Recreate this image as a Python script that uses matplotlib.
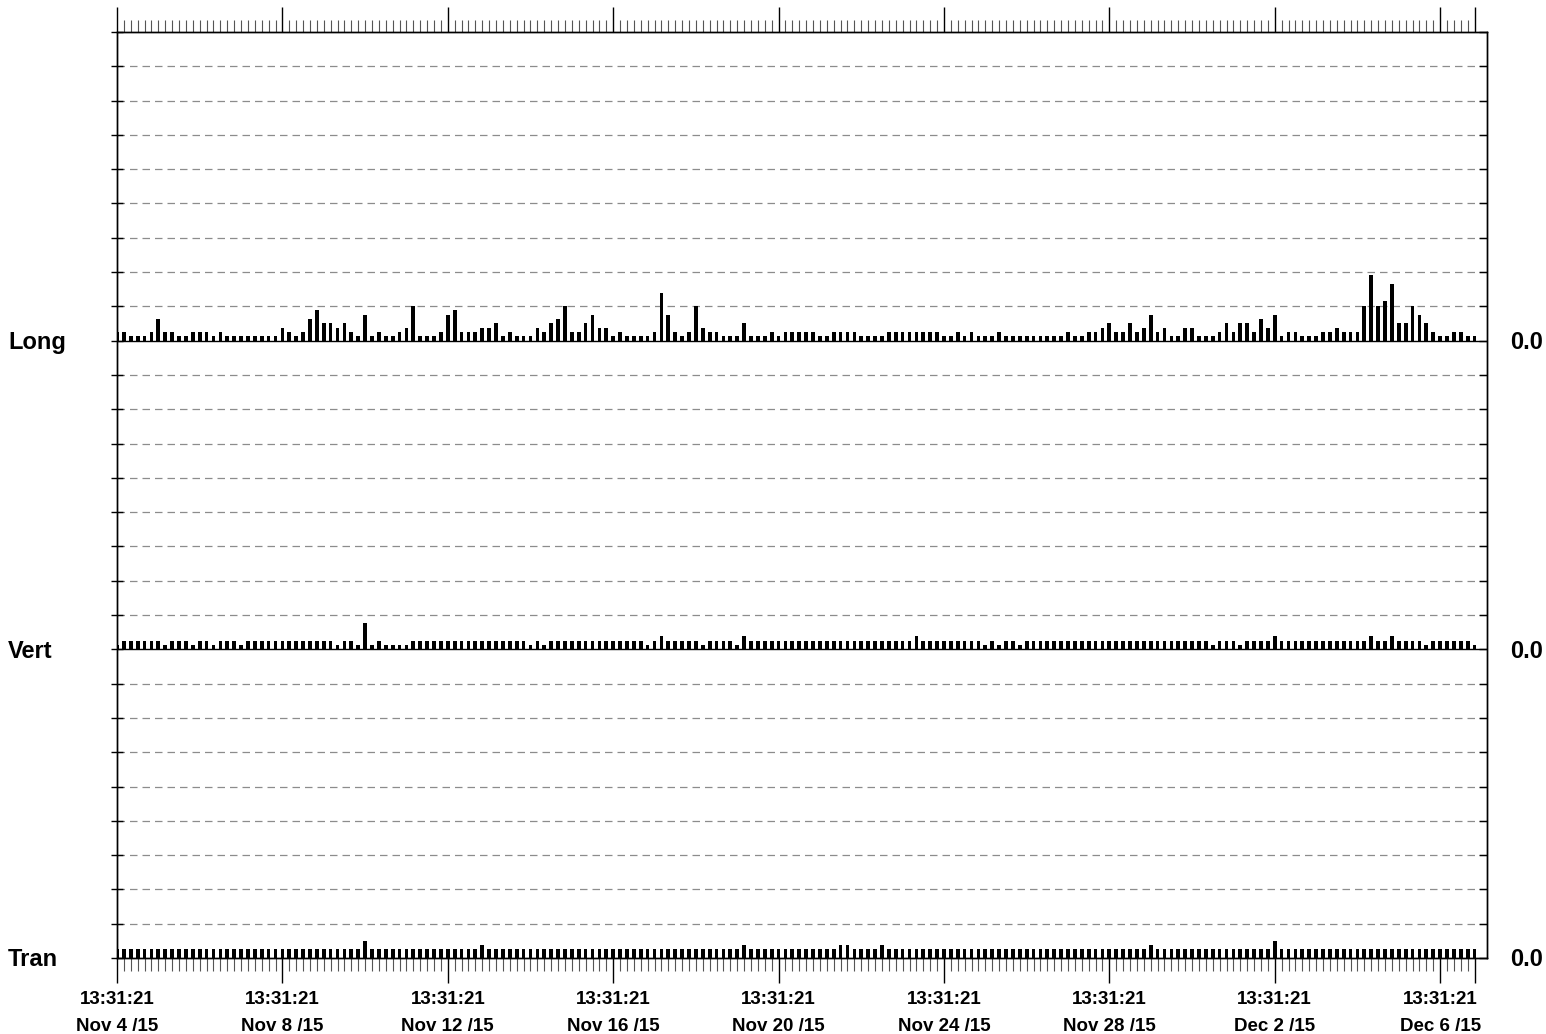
"""Three-channel PPV bar chart (Long / Vert / Tran), one bar every 4 hours."""
from datetime import datetime, timedelta

import matplotlib
matplotlib.use("Agg")
import matplotlib.dates as mdates
import matplotlib.pyplot as plt
from matplotlib.ticker import FixedLocator, FuncFormatter

plt.rcParams["font.family"] = ["Liberation Sans", "DejaVu Sans"]
plt.rcParams["font.weight"] = "bold"

# one reading every 4 h, values as counts of the 0.127 mm/s resolution step
START = datetime(2015, 11, 4, 13, 31, 21)
STEP_H = 4
RES = 0.127

LONG = [2, 2, 1, 1, 1, 2, 5, 2, 2, 1, 1, 2, 2, 2, 1, 2, 1, 1, 1, 1,
        1, 1, 1, 1, 3, 2, 1, 2, 5, 7, 4, 4, 3, 4, 2, 1, 6, 1, 2, 1,
        1, 2, 3, 8, 1, 1, 1, 2, 6, 7, 2, 2, 2, 3, 3, 4, 1, 2, 1, 1,
        1, 3, 2, 4, 5, 8, 2, 2, 4, 6, 3, 3, 1, 2, 1, 1, 1, 1, 2, 11,
        6, 2, 1, 2, 8, 3, 2, 2, 1, 1, 1, 4, 1, 1, 1, 2, 1, 2, 2, 2,
        2, 2, 1, 1, 2, 2, 2, 2, 1, 1, 1, 1, 2, 2, 2, 2, 2, 2, 2, 2,
        1, 1, 2, 1, 2, 1, 1, 1, 2, 1, 1, 1, 1, 1, 1, 1, 1, 1, 2, 1,
        1, 2, 2, 3, 4, 2, 2, 4, 2, 3, 6, 2, 3, 1, 1, 3, 3, 1, 1, 1,
        2, 4, 2, 4, 4, 2, 5, 3, 6, 1, 2, 2, 1, 1, 1, 2, 2, 3, 2, 2,
        2, 8, 15, 8, 9, 13, 4, 4, 8, 6, 4, 2, 1, 1, 2, 2, 1, 1]

VERT = [1, 2, 2, 2, 2, 2, 2, 1, 2, 2, 2, 1, 2, 2, 1, 2, 2, 2, 1, 2,
        2, 2, 2, 2, 2, 2, 2, 2, 2, 2, 2, 2, 1, 2, 2, 1, 6, 1, 2, 1,
        1, 1, 1, 2, 2, 2, 2, 2, 2, 2, 2, 2, 2, 2, 2, 2, 2, 2, 2, 2,
        1, 2, 1, 2, 2, 2, 2, 2, 2, 2, 2, 2, 2, 2, 2, 2, 2, 1, 2, 3,
        2, 2, 2, 2, 2, 1, 2, 2, 2, 2, 1, 3, 2, 2, 2, 2, 2, 2, 2, 2,
        2, 2, 2, 2, 2, 2, 2, 2, 2, 2, 2, 2, 2, 2, 2, 2, 3, 2, 2, 2,
        2, 2, 2, 2, 2, 2, 1, 2, 1, 2, 2, 1, 2, 2, 2, 2, 2, 2, 2, 2,
        2, 2, 2, 2, 2, 2, 2, 2, 2, 2, 2, 2, 2, 2, 2, 2, 2, 2, 2, 1,
        2, 2, 2, 1, 2, 2, 2, 2, 3, 2, 2, 2, 2, 2, 2, 2, 2, 2, 2, 2,
        2, 2, 3, 2, 2, 3, 2, 2, 2, 2, 1, 2, 2, 2, 2, 2, 2, 1]

TRAN = [2] * 198
for i, v in [(36, 4), (53, 3), (91, 3), (105, 3), (106, 3), (111, 3),
             (150, 3), (168, 4)]:
    TRAN[i] = v

CHANNELS = ["Long", "Vert", "Tran"]
SERIES = [LONG, VERT, TRAN]
BAND = 9          # mm/s of grid per channel band
MAJOR_DAYS = 4

times = [START + timedelta(hours=STEP_H * i) for i in range(len(LONG))]
tnum = mdates.date2num(times)
step_d = STEP_H / 24.0

W, H = 1546, 1034
fig = plt.figure(figsize=(W / 100, H / 100), dpi=100)
ax = fig.add_axes([117 / W, 1 - 958 / H, 1370 / W, 926 / H])

for k, (name, vals) in enumerate(zip(CHANNELS, SERIES)):
    base = BAND * (len(CHANNELS) - 1 - k)
    ax.bar(tnum, [v * RES for v in vals], bottom=base, width=step_d * 0.54,
           color="black", edgecolor="none", zorder=3)
    if base > 0:
        ax.axhline(base, color="black", lw=1.0, zorder=4)
    ax.text(-109 / 1370, base - 0.05, name, transform=ax.get_yaxis_transform(),
            ha="left", va="center", fontsize=17, fontweight="bold")
    ax.text(1.0 + 23 / 1370, base - 0.05, "0.0",
            transform=ax.get_yaxis_transform(),
            ha="left", va="center", fontsize=17, fontweight="bold")

for y in range(1, BAND * 3):
    if y % BAND:
        ax.axhline(y, color="#8c8c8c", lw=0.9, ls=(0, (6, 4)), zorder=1)

ax.set_ylim(0, BAND * 3)
ax.set_xlim(tnum[0], tnum[0] + 198.8 * step_d)

# x ticks: major every 4 days, plus the last reading; minor every 4 h
majors = [tnum[0] + MAJOR_DAYS * k for k in range(9)] + [tnum[-1]]
ax.xaxis.set_major_locator(FixedLocator(majors))
ax.xaxis.set_minor_locator(FixedLocator(tnum))


def fmt(x, pos):
    if abs(x - tnum[-1]) < 1e-6:
        return ""
    d = mdates.num2date(x)
    return f"{d:%H:%M:%S}\n{d:%b} {d.day} /{d:%y}"


ax.xaxis.set_major_formatter(FuncFormatter(fmt))
ax.tick_params(axis="x", which="both", top=True, bottom=True,
               direction="out", color="black")
ax.tick_params(axis="x", which="major", length=18, width=1.0, pad=6,
               labelsize=13.5)
ax.tick_params(axis="x", which="minor", length=9, width=0.8,
               color="#555555")
for lab in ax.get_xticklabels():
    lab.set_fontweight("bold")
    lab.set_linespacing(1.75)

ax.set_yticks(range(0, BAND * 3 + 1))
ax.tick_params(axis="y", which="major", left=True, right=False,
               direction="inout", length=9, width=1.0, labelleft=False)
axr = ax.twinx()
axr.set_ylim(ax.get_ylim())
axr.set_yticks(range(0, BAND * 3 + 1))
axr.tick_params(axis="y", direction="in", length=6, width=1.0,
                labelright=False)

for a in (ax, axr):
    for sp in a.spines.values():
        sp.set_linewidth(1.0)

fig.savefig("out.png", dpi=100)
